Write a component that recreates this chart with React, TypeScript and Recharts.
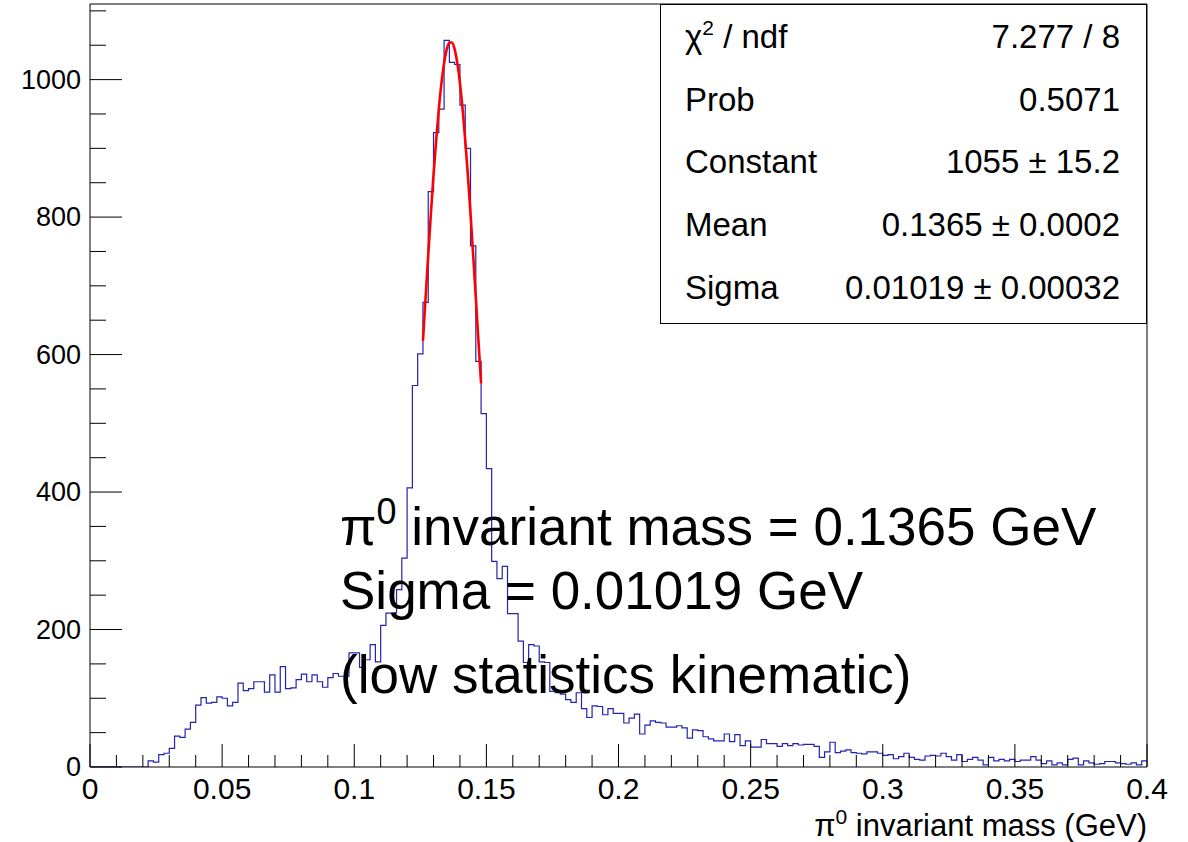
import React from "react";
import { ComposedChart, Line, XAxis, YAxis, ReferenceLine } from "recharts";

// ---- data ----
const binWidth = 0.002;
const binCounts = [
  0, 0, 0, 0, 0, 0, 0, 0, 0, 0,
  0, 9, 7, 18, 20, 27, 45, 43, 55, 65,
  90, 101, 93, 94, 102, 100, 89, 94, 122, 111,
  114, 124, 124, 109, 134, 109, 146, 114, 115, 127,
  135, 124, 134, 124, 116, 130, 136, 132, 132, 166,
  166, 145, 156, 178, 153, 206, 224, 224, 258, 304,
  406, 555, 601, 676, 837, 923, 957, 1057, 1025, 1022,
  963, 900, 758, 590, 514, 434, 299, 274, 292, 223,
  223, 183, 152, 178, 176, 153, 152, 110, 108, 106,
  98, 94, 108, 85, 72, 89, 88, 76, 85, 78,
  78, 64, 71, 77, 48, 61, 67, 65, 64, 58,
  58, 60, 57, 42, 54, 53, 44, 41, 38, 38,
  48, 37, 47, 31, 38, 29, 29, 40, 34, 34,
  30, 34, 31, 34, 32, 33, 33, 30, 14, 22,
  36, 21, 23, 25, 21, 20, 19, 22, 22, 20,
  17, 18, 12, 15, 20, 14, 11, 10, 16, 17,
  16, 20, 15, 10, 18, 8, 11, 14, 10, 3,
  14, 9, 11, 9, 11, 8, 10, 10, 15, 10,
  5, 9, 3, 6, 3, 11, 13, 3, 9, 6,
  4, 5, 8, 8, 6, 5, 4, 6, 3, 9,
];

// red fit curve, sampled along the drawn curve
const fitX = [
  0.126, 0.127, 0.128, 0.129, 0.13, 0.131, 0.132, 0.133, 0.134, 0.135, 0.136, 0.137,
  0.138, 0.139, 0.14, 0.141, 0.142, 0.143, 0.144, 0.145, 0.146, 0.147, 0.148,
];
const fitY = [
  620, 683, 745, 805, 861, 912, 957, 995, 1024, 1044, 1054, 1054,
  1044, 1024, 995, 957, 912, 861, 805, 745, 683, 620, 558,
];

const xMajorTicks = [0, 0.05, 0.1, 0.15, 0.2, 0.25, 0.3, 0.35, 0.4];
const xTickLabels = ["0", "0.05", "0.1", "0.15", "0.2", "0.25", "0.3", "0.35", "0.4"];
const xMinorPerMajor = 5;
const yMajorTicks = [0, 200, 400, 600, 800, 1000];
const yTickLabels = ["0", "200", "400", "600", "800", "1000"];
const yMinorPerMajor = 4;
const yMax = 1110;
const xMax = 0.4;

const statsLabels = ["Prob", "Constant", "Mean", "Sigma"];
const statsValues = ["7.277 / 8", "0.5071", "1055 \u00b1 15.2", "0.1365 \u00b1 0.0002", "0.01019 \u00b1 0.00032"];
const annotationLine2 = "Sigma = 0.01019 GeV";
const annotationLine3 = "(low statistics kinematic)";
const annotationLine1Rest = " invariant mass = 0.1365 GeV";
const xTitleRest = " invariant mass (GeV)";

// ---- tables for the library ----
const histData = binCounts
  .map((c, i) => ({ x: +(i * binWidth).toFixed(4), y: c }))
  .concat([{ x: xMax, y: binCounts[binCounts.length - 1] }]);
const fitData = fitX.map((x, i) => ({ x, y: fitY[i] }));

const xTicks: number[] = [];
for (let i = 0; i < xMajorTicks.length - 1; i++) {
  const step = (xMajorTicks[i + 1] - xMajorTicks[i]) / xMinorPerMajor;
  for (let k = 0; k < xMinorPerMajor; k++) xTicks.push(+(xMajorTicks[i] + k * step).toFixed(4));
}
xTicks.push(xMajorTicks[xMajorTicks.length - 1]);

const yTicks: number[] = [];
for (let i = 0; i < yMajorTicks.length; i++) {
  const step = 200 / yMinorPerMajor;
  for (let k = 0; k < yMinorPerMajor; k++) {
    const v = yMajorTicks[i] + k * step;
    if (v <= yMax) yTicks.push(v);
  }
}

const FONT = "'Liberation Sans', Arial, Helvetica, sans-serif";

const XTick = (props: any) => {
  const { x, y, payload } = props;
  const v = payload.value;
  const idx = xMajorTicks.findIndex((t) => Math.abs(t - v) < 1e-7);
  const major = idx >= 0;
  return (
    <g>
      <line x1={x} x2={x} y1={y} y2={y - (major ? 23 : 12)} stroke="#000" strokeWidth={1} />
      {major && (
        <text x={x} y={y + 32} textAnchor="middle" fontFamily={FONT} fontSize={30} fill="#000">
          {xTickLabels[idx]}
        </text>
      )}
    </g>
  );
};

const YTick = (props: any) => {
  const { x, y, payload } = props;
  const v = payload.value;
  const idx = yMajorTicks.indexOf(v);
  const major = idx >= 0;
  return (
    <g>
      <line x1={x} x2={x + (major ? 32 : 16)} y1={y} y2={y} stroke="#000" strokeWidth={1} />
      {major && (
        <text x={x - 9} y={y + 9} textAnchor="end" fontFamily={FONT} fontSize={27} fill="#000">
          {yTickLabels[idx]}
        </text>
      )}
    </g>
  );
};

export default function App() {
  const statsBaseline = (i: number) => 48 + i * 62.7;
  return (
    <div style={{ position: "absolute", left: 0, top: 0, width: 1188, height: 842, background: "#fff" }}>
      <ComposedChart
        width={1188}
        height={842}
        data={histData}
        margin={{ top: 4, right: 41, bottom: 45, left: 30 }}
      >
        <XAxis
          type="number"
          dataKey="x"
          domain={[0, xMax]}
          ticks={xTicks}
          interval={0}
          tick={<XTick />}
          tickLine={false}
          tickSize={0}
          tickMargin={0}
          height={30}
          axisLine={{ stroke: "#000" }}
          allowDataOverflow
        />
        <YAxis
          type="number"
          domain={[0, yMax]}
          ticks={yTicks}
          interval={0}
          tick={<YTick />}
          tickLine={false}
          tickSize={0}
          tickMargin={0}
          width={60}
          axisLine={{ stroke: "#000" }}
          allowDataOverflow
        />
        <ReferenceLine y={yMax} stroke="#000" />
        <ReferenceLine x={xMax} stroke="#000" />
        <Line
          data={histData}
          dataKey="y"
          type="stepAfter"
          stroke="#2323b0"
          strokeWidth={1.2}
          dot={false}
          activeDot={false}
          isAnimationActive={false}
        />
        <Line
          data={fitData}
          dataKey="y"
          type="monotone"
          stroke="#ff0000"
          strokeWidth={2.6}
          dot={false}
          activeDot={false}
          isAnimationActive={false}
        />
      </ComposedChart>
      <svg
        width={1188}
        height={842}
        style={{ position: "absolute", left: 0, top: 0, pointerEvents: "none" }}
        fontFamily={FONT}
      >
        <rect x={660.5} y={4.5} width={486} height={319} fill="#fff" stroke="#000" strokeWidth={1} />
        <text x={685} y={statsBaseline(0)} fontSize={33} fill="#000">
          <tspan>{"\u03c7"}</tspan>
          <tspan dy={-13} fontSize={21}>2</tspan>
          <tspan dy={13}>{" / ndf"}</tspan>
        </text>
        {statsLabels.map((l, i) => (
          <text key={l} x={685} y={statsBaseline(i + 1)} fontSize={33} fill="#000">
            {l}
          </text>
        ))}
        {statsValues.map((v, i) => (
          <text key={v} x={1120} y={statsBaseline(i)} fontSize={33} textAnchor="end" fill="#000">
            {v}
          </text>
        ))}
        <text x={340} y={545} fontSize={53} fill="#000">
          <tspan>{"\u03c0"}</tspan>
          <tspan dy={-21} fontSize={36}>0</tspan>
          <tspan dy={21}>{annotationLine1Rest}</tspan>
        </text>
        <text x={340} y={609} fontSize={53} fill="#000">
          {annotationLine2}
        </text>
        <text x={340} y={693} fontSize={53} fill="#000">
          {annotationLine3}
        </text>
        <text x={1147} y={836} fontSize={31} textAnchor="end" fill="#000">
          <tspan>{"\u03c0"}</tspan>
          <tspan dy={-12} fontSize={21}>0</tspan>
          <tspan dy={12}>{xTitleRest}</tspan>
        </text>
      </svg>
    </div>
  );
}
